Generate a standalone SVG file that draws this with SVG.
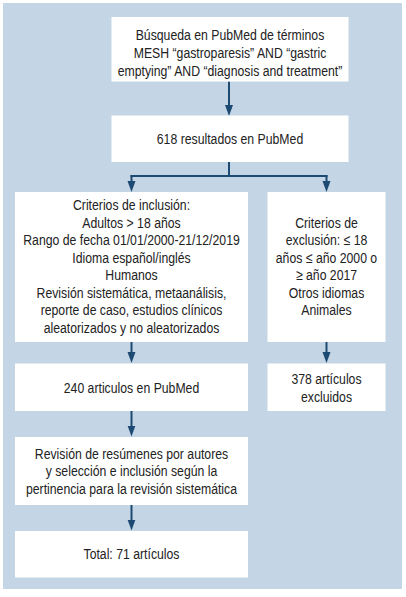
<svg xmlns="http://www.w3.org/2000/svg" width="406" height="597" viewBox="0 0 406 597">
<style>
.bg{fill:#c4d5e5}
.box{fill:#ffffff}
.t{font-family:"Liberation Sans",Arial,sans-serif;font-size:15px;fill:#222222;text-anchor:middle}
.c{stroke:#1c4a72;stroke-width:2;fill:none}
</style>
<defs>
<marker id="ah" markerUnits="userSpaceOnUse" markerWidth="12" markerHeight="9" refX="5" refY="4" orient="auto">
<path d="M0,0 L11,4 L0,8 z" fill="#1c4a72"/>
</marker>
</defs>
<rect class="bg" x="3" y="3" width="399" height="586"/>
<g id="connectors">
<line class="c" x1="229" y1="81.5" x2="229" y2="110" marker-end="url(#ah)"/>
<polyline class="c" points="229,162 229,176"/>
<line class="c" x1="130.5" y1="176" x2="327.5" y2="176"/>
<line class="c" x1="131.5" y1="175" x2="131.5" y2="186" marker-end="url(#ah)"/>
<line class="c" x1="326.5" y1="175" x2="326.5" y2="186" marker-end="url(#ah)"/>
<line class="c" x1="131.5" y1="342" x2="131.5" y2="357" marker-end="url(#ah)"/>
<line class="c" x1="326.5" y1="342" x2="326.5" y2="357" marker-end="url(#ah)"/>
<line class="c" x1="131.5" y1="411" x2="131.5" y2="430.5" marker-end="url(#ah)"/>
<line class="c" x1="131.5" y1="505" x2="131.5" y2="524.5" marker-end="url(#ah)"/>
</g>
<g id="n-busqueda">
<rect class="box" x="111.5" y="17" width="237" height="64.5"/>
<text class="t" transform="translate(230,39.5) scale(0.817,1)">Búsqueda en PubMed de términos</text>
<text class="t" transform="translate(230,57.5) scale(0.817,1)">MESH “gastroparesis” AND “gastric</text>
<text class="t" transform="translate(230,75.5) scale(0.817,1)">emptying” AND “diagnosis and treatment”</text>
</g>
<g id="n-618">
<rect class="box" x="111.5" y="115.5" width="237" height="46.5"/>
<text class="t" transform="translate(230,143.5) scale(0.817,1)">618 resultados en PubMed</text>
</g>
<g id="n-inclusion">
<rect class="box" x="15" y="192" width="233" height="150"/>
<text class="t" transform="translate(131.5,210) scale(0.817,1)">Criterios de inclusión:</text>
<text class="t" transform="translate(131.5,227.5) scale(0.817,1)">Adultos &gt; 18 años</text>
<text class="t" transform="translate(131.5,245) scale(0.817,1)">Rango de fecha 01/01/2000-21/12/2019</text>
<text class="t" transform="translate(131.5,262.5) scale(0.817,1)">Idioma español/inglés</text>
<text class="t" transform="translate(131.5,280) scale(0.817,1)">Humanos</text>
<text class="t" transform="translate(131.5,297.5) scale(0.817,1)">Revisión sistemática, metaanálisis,</text>
<text class="t" transform="translate(131.5,315) scale(0.817,1)">reporte de caso, estudios clínicos</text>
<text class="t" transform="translate(131.5,332.5) scale(0.817,1)">aleatorizados y no aleatorizados</text>
</g>
<g id="n-exclusion">
<rect class="box" x="267.5" y="192" width="118" height="150"/>
<text class="t" transform="translate(326.5,227.5) scale(0.817,1)">Criterios de</text>
<text class="t" transform="translate(326.5,245) scale(0.817,1)">exclusión: ≤ 18</text>
<text class="t" transform="translate(326.5,262.5) scale(0.817,1)">años ≤ año 2000 o</text>
<text class="t" transform="translate(326.5,280) scale(0.817,1)">≥ año 2017</text>
<text class="t" transform="translate(326.5,297.5) scale(0.817,1)">Otros idiomas</text>
<text class="t" transform="translate(326.5,315) scale(0.817,1)">Animales</text>
</g>
<g id="n-240">
<rect class="box" x="15" y="363.5" width="233" height="47.5"/>
<text class="t" transform="translate(131.5,392.5) scale(0.817,1)">240 articulos en PubMed</text>
</g>
<g id="n-378">
<rect class="box" x="267.5" y="363.5" width="118" height="47.5"/>
<text class="t" transform="translate(326.5,384) scale(0.817,1)">378 artículos</text>
<text class="t" transform="translate(326.5,401.5) scale(0.817,1)">excluidos</text>
</g>
<g id="n-revision">
<rect class="box" x="15" y="437" width="233" height="68"/>
<text class="t" transform="translate(131.5,458.5) scale(0.817,1)">Revisión de resúmenes por autores</text>
<text class="t" transform="translate(131.5,476) scale(0.817,1)">y selección e inclusión según la</text>
<text class="t" transform="translate(131.5,493.5) scale(0.817,1)">pertinencia para la revisión sistemática</text>
</g>
<g id="n-total">
<rect class="box" x="15" y="531" width="233" height="46.5"/>
<text class="t" transform="translate(131.5,559) scale(0.817,1)">Total: 71 artículos</text>
</g>
</svg>
